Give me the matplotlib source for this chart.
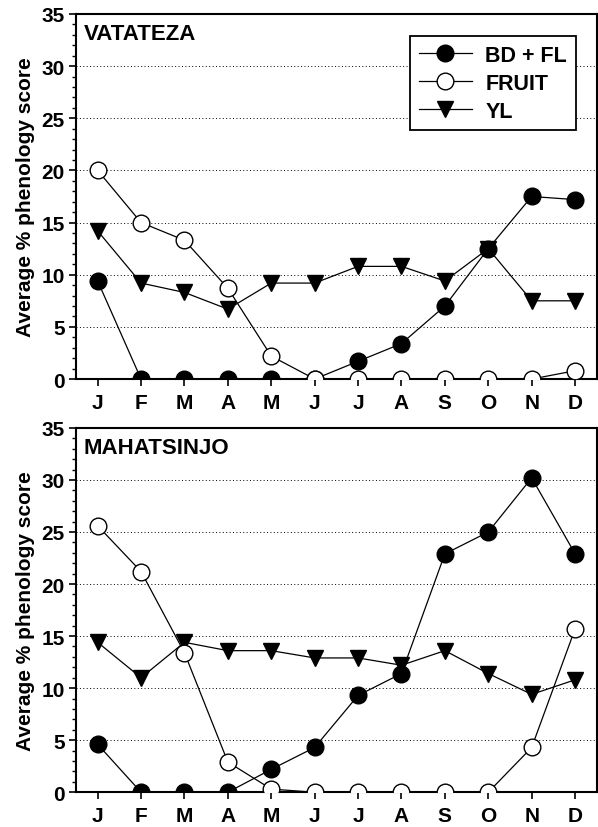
import numpy as np
import matplotlib
matplotlib.use("Agg")
import matplotlib.pyplot as plt
from matplotlib.ticker import MultipleLocator

plt.rcParams['font.family'] = ['Liberation Sans', 'DejaVu Sans']
plt.rcParams['font.weight'] = 'bold'

months = ['J', 'F', 'M', 'A', 'M', 'J', 'J', 'A', 'S', 'O', 'N', 'D']

# VATATEZA
vat_bd = [9.4, 0, 0, 0, 0, 0, 1.7, 3.4, 7.0, 12.5, 17.5, 17.2]
vat_fruit = [20.0, 15.0, 13.3, 8.7, 2.2, 0, 0, 0, 0, 0, 0, 0.8]
vat_yl = [14.2, 9.2, 8.3, 6.7, 9.2, 9.2, 10.8, 10.8, 9.4, 12.5, 7.5, 7.5]

# MAHATSINJO
mah_bd = [4.6, 0, 0, 0, 2.2, 4.3, 9.3, 11.4, 22.9, 25.0, 30.2, 22.9]
mah_fruit = [25.6, 21.2, 13.4, 2.9, 0.3, 0, 0, 0, 0, 0, 4.3, 15.7]
mah_yl = [14.4, 11.0, 14.4, 13.6, 13.6, 12.9, 12.9, 12.2, 13.6, 11.4, 9.4, 10.8]

sites = [('VATATEZA', vat_bd, vat_fruit, vat_yl),
         ('MAHATSINJO', mah_bd, mah_fruit, mah_yl)]

fig = plt.figure(figsize=(5.98, 8.28), dpi=100)
ax_top = fig.add_axes([0.127, 0.541, 0.871, 0.441])
ax_bot = fig.add_axes([0.127, 0.042, 0.871, 0.440])

x = np.arange(len(months))
for ax, (name, bd, fruit, yl) in zip([ax_top, ax_bot], sites):
    for yv in range(5, 35, 5):
        ax.axhline(yv, color='black', lw=0.7, ls=(0, (1, 2.5)), zorder=0)
    ax.plot(x, yl, color='black', lw=0.9, marker='v', ms=12,
            mfc='black', mec='black', label='YL', zorder=3)
    ax.plot(x, bd, color='black', lw=0.9, marker='o', ms=12,
            mfc='black', mec='black', label='BD + FL', zorder=4)
    ax.plot(x, fruit, color='black', lw=0.9, marker='o', ms=12,
            mfc='white', mec='black', mew=1.0, label='FRUIT', zorder=5)
    ax.set_xlim(-0.5, 11.5)
    ax.set_ylim(0, 35)
    ax.set_xticks(x)
    ax.set_xticklabels(months, fontsize=15, fontweight='bold')
    ax.yaxis.set_major_locator(MultipleLocator(5))
    ax.yaxis.set_minor_locator(MultipleLocator(1))
    for lab in ax.get_yticklabels():
        lab.set_fontsize(15)
        lab.set_fontweight('bold')
    ax.tick_params(axis='y', which='major', direction='out', length=5, width=1.2, pad=3)
    ax.tick_params(axis='y', which='minor', direction='out', length=3, width=1.0)
    ax.tick_params(axis='x', which='major', direction='out', length=5, width=1.2, pad=5)
    for sp in ax.spines.values():
        sp.set_linewidth(1.5)
    ax.set_ylabel('Average % phenology score', fontsize=15, fontweight='bold', labelpad=5)
    ax.text(0.015, 0.975, name, transform=ax.transAxes, ha='left', va='top',
            fontsize=16, fontweight='bold')

handles, labels = ax_top.get_legend_handles_labels()
order = [1, 2, 0]
leg = ax_top.legend([handles[i] for i in order], [labels[i] for i in order],
                    loc='upper right', bbox_to_anchor=(0.98, 0.968),
                    fancybox=False, framealpha=1, edgecolor='black',
                    prop={'size': 15.5, 'weight': 'bold'}, handlelength=2.5,
                    borderpad=0.4, labelspacing=0.32, handletextpad=0.6)
leg.get_frame().set_linewidth(1.3)

fig.savefig('out.png', dpi=100)
